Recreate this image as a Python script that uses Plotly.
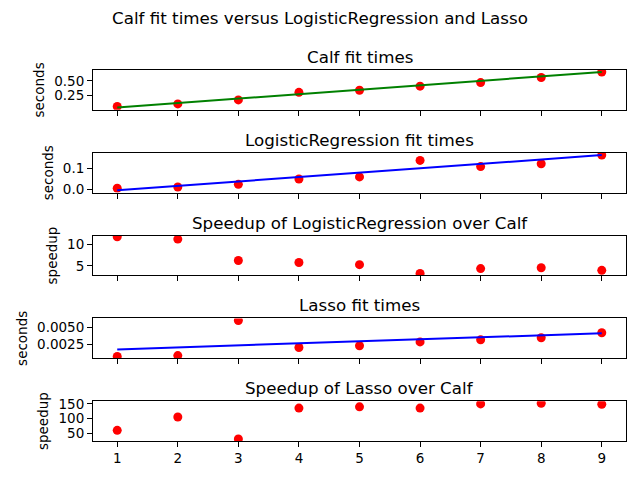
import plotly.graph_objects as go
from plotly.subplots import make_subplots

# problem sizes on the x axis
sizes = [1, 2, 3, 4, 5, 6, 7, 8, 9]
fit_x = [1, 9]

# fit times
calf_times = [0.067, 0.11, 0.178, 0.306, 0.34, 0.41, 0.47, 0.556, 0.65]
calf_fit = [0.05, 0.65]

logreg_times = [0.005, 0.011, 0.024, 0.05, 0.06, 0.14, 0.11, 0.124, 0.166]
logreg_fit = [-0.005, 0.166]
logreg_speedup = [11.7, 11.15, 6.25, 5.8, 5.3, 3.3, 4.4, 4.6, 4.0]

lasso_times = [0.00082, 0.00095, 0.00596, 0.0021, 0.00235, 0.0029, 0.0032, 0.0035, 0.0042]
lasso_fit = [0.00183, 0.00413]
lasso_speedup = [61, 106, 32, 136, 140, 136, 150, 152, 149]

titles = ["Calf fit times", "LogisticRegression fit times",
          "Speedup of LogisticRegression over Calf", "Lasso fit times",
          "Speedup of Lasso over Calf"]
ylabels = ["seconds", "seconds", "speedup", "seconds", "speedup"]

fig = make_subplots(rows=5, cols=1, shared_xaxes=True,
                    subplot_titles=titles, vertical_spacing=0.116)

dot = dict(color="red", size=9)

def add_points(y, row):
    fig.add_trace(go.Scatter(x=sizes, y=y, mode="markers", marker=dot), row=row, col=1)

def add_line(y, color, row):
    fig.add_trace(go.Scatter(x=fit_x, y=y, mode="lines",
                             line=dict(color=color, width=2)), row=row, col=1)

add_points(calf_times, 1)
add_line(calf_fit, "green", 1)
add_points(logreg_times, 2)
add_line(logreg_fit, "blue", 2)
add_points(logreg_speedup, 3)
add_points(lasso_times, 4)
add_line(lasso_fit, "blue", 4)
add_points(lasso_speedup, 5)

yranges = [[0.011, 0.683], [-0.016, 0.177], [2.85, 11.95], [0.00058, 0.00625], [25, 159]]
dticks = [0.25, 0.1, 5, 0.0025, 50]
formats = [".2f", ".1f", "d", ".4f", "d"]

axis_style = dict(showline=True, linecolor="black", linewidth=1, mirror=True,
                  ticks="outside", ticklen=5, tickcolor="black",
                  showgrid=False, zeroline=False, tickfont=dict(size=13.5))

for i in range(5):
    fig.update_yaxes(range=yranges[i], dtick=dticks[i], tick0=0, tickformat=formats[i],
                     title=dict(text=ylabels[i], font=dict(size=13.5), standoff=6),
                     row=i + 1, col=1, **axis_style)
    fig.update_xaxes(range=[0.6, 9.4], dtick=1, row=i + 1, col=1, **axis_style)

for ann in fig.layout.annotations:
    ann.font = dict(size=16.7, color="black")
    ann.yshift = 1

# the page body adds an 8px offset, so the figure is 8px smaller than the window
fig.update_layout(
    width=632, height=472,
    margin=dict(l=85, r=14, t=62, b=39),
    showlegend=False,
    plot_bgcolor="white", paper_bgcolor="white",
    font=dict(family="DejaVu Sans", color="black"),
    title=dict(text="Calf fit times versus LogisticRegression and Lasso",
               x=312 / 632, xref="container", xanchor="center",
               y=1 - 10 / 472, yref="container", yanchor="middle",
               font=dict(size=16.7)),
)

fig.write_html("out.html")
